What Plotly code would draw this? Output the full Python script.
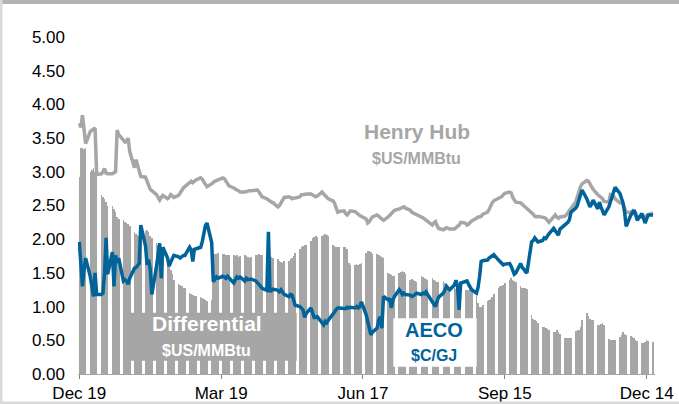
import pandas as pd
import plotly.graph_objects as go

# business-day dates (Mon 2016-12-19 .. Mon 2017-12-18)
dates = pd.bdate_range("2016-12-19", "2017-12-18")

# Henry Hub, $US/MMBtu (weekly rows, Mon..Fri)
henry_hub_weeks = [
    [3.72, 3.66, 3.84, 3.55, 3.42], [3.60, 3.62, 3.63, 3.65, 2.96],
    [2.97, 3.00, 3.05, 2.98, 2.97], [2.97, 2.98, 3.00, 3.62, 3.55],
    [3.47, 3.44, 3.45, 3.50, 3.30], [3.06, 3.18, 3.10, 2.98, 2.93],
    [2.92, 2.85, 2.80, 2.74, 2.72], [2.66, 2.62, 2.58, 2.62, 2.65],
    [2.60, 2.62, 2.66, 2.64, 2.62], [2.65, 2.69, 2.72, 2.76, 2.78],
    [2.83, 2.86, 2.84, 2.86, 2.88], [2.91, 2.89, 2.85, 2.80, 2.78],
    [2.82, 2.85, 2.86, 2.87, 2.88], [2.91, 2.90, 2.86, 2.82, 2.79],
    [2.76, 2.74, 2.73, 2.72, 2.70], [2.70, 2.71, 2.72, 2.72, 2.72],
    [2.72, 2.73, 2.70, 2.66, 2.63], [2.60, 2.58, 2.57, 2.55, 2.54],
    [2.48, 2.50, 2.53, 2.58, 2.62], [2.63, 2.62, 2.60, 2.61, 2.61],
    [2.63, 2.66, 2.66, 2.67, 2.67], [2.67, 2.66, 2.65, 2.63, 2.64],
    [2.70, 2.67, 2.64, 2.62, 2.60], [2.57, 2.53, 2.46, 2.40, 2.41],
    [2.42, 2.38, 2.36, 2.39, 2.42], [2.41, 2.38, 2.37, 2.35, 2.34],
    [2.30, 2.24, 2.26, 2.30, 2.33], [2.36, 2.34, 2.32, 2.30, 2.28],
    [2.33, 2.36, 2.39, 2.41, 2.43], [2.45, 2.46, 2.47, 2.48, 2.46],
    [2.43, 2.40, 2.39, 2.37, 2.36], [2.34, 2.32, 2.30, 2.28, 2.26],
    [2.21, 2.24, 2.26, 2.20, 2.16], [2.14, 2.15, 2.17, 2.16, 2.15],
    [2.15, 2.17, 2.18, 2.21, 2.25], [2.24, 2.21, 2.22, 2.25, 2.27],
    [2.31, 2.33, 2.33, 2.34, 2.37], [2.40, 2.44, 2.50, 2.54, 2.57],
    [2.61, 2.62, 2.63, 2.66, 2.68], [2.70, 2.69, 2.62, 2.57, 2.55],
    [2.54, 2.52, 2.50, 2.48, 2.45], [2.40, 2.37, 2.34, 2.33, 2.34],
    [2.33, 2.32, 2.31, 2.28, 2.25], [2.33, 2.36, 2.33, 2.31, 2.33],
    [2.34, 2.36, 2.40, 2.43, 2.46], [2.55, 2.63, 2.72, 2.78, 2.82],
    [2.87, 2.86, 2.82, 2.78, 2.74], [2.66, 2.64, 2.62, 2.60, 2.56],
    [2.55, 2.66, 2.65, 2.64, 2.60], [2.54, 2.54, 2.52, 2.46, 2.40],
    [2.40, 2.42, 2.38, 2.35, 2.33], [2.33, 2.32, 2.34, 2.35, 2.36],
    [2.39],
]

# AECO, $C/GJ
aeco_weeks = [
    [1.96, 1.65, 1.30, 1.55, 1.72], [1.44, 1.25, 1.15, 1.50, 1.18],
    [1.18, 1.20, 1.50, 2.02, 1.48], [1.81, 1.30, 1.76, 1.65, 1.72],
    [1.38, 1.40, 1.38, 1.33, 1.42], [1.57, 1.58, 1.62, 1.64, 2.21],
    [1.90, 1.62, 1.70, 1.55, 1.18], [1.60, 1.75, 1.94, 1.42, 1.88],
    [1.72, 1.60, 1.66, 1.72, 1.76], [1.74, 1.72, 1.74, 1.76, 1.76],
    [1.88, 1.84, 1.67, 1.85, 1.86], [1.88, 1.96, 2.06, 2.20, 2.24],
    [1.95, 1.37, 1.40, 1.44, 1.42], [1.45, 1.44, 1.42, 1.45, 1.42],
    [1.35, 1.40, 1.44, 1.42, 1.44], [1.38, 1.42, 1.40, 1.40, 1.41],
    [1.38, 1.36, 1.33, 1.30, 1.27], [1.24, 2.11, 1.22, 1.24, 1.26],
    [1.24, 1.22, 1.25, 1.22, 1.18], [1.15, 1.18, 1.17, 1.08, 1.02],
    [1.00, 0.98, 0.95, 0.84, 0.90], [0.98, 0.90, 0.84, 0.84, 0.85],
    [0.76, 0.73, 0.78, 0.76, 0.80], [0.88, 0.92, 0.96, 0.98, 0.98],
    [0.98, 0.97, 0.99, 0.98, 0.99], [0.98, 1.00, 0.98, 1.00, 1.07],
    [0.88, 0.78, 0.70, 0.58, 0.62], [0.68, 0.80, 0.85, 0.68, 1.15],
    [1.10, 1.12, 0.98, 1.10, 1.15], [1.25, 1.22, 1.18, 1.20, 1.18],
    [1.17, 1.15, 1.16, 1.18, 1.20], [1.18, 1.20, 1.19, 1.22, 1.18],
    [1.07, 1.02, 1.00, 1.08, 1.14], [1.20, 1.26, 1.30, 1.27, 1.25],
    [1.32, 1.39, 1.30, 0.95, 1.35], [1.37, 1.38, 1.33, 1.28, 1.25],
    [1.20, 1.28, 1.45, 1.67, 1.68], [1.69, 1.72, 1.74, 1.76, 1.77],
    [1.69, 1.66, 1.64, 1.62, 1.63], [1.64, 1.60, 1.55, 1.48, 1.50],
    [1.64, 1.58, 1.56, 1.52, 1.50], [1.96, 1.98, 2.02, 1.98, 1.96],
    [1.98, 2.02, 2.01, 2.05, 2.08], [2.16, 2.12, 2.09, 2.06, 2.15],
    [2.21, 2.24, 2.25, 2.29, 2.40], [2.46, 2.50, 2.58, 2.64, 2.73],
    [2.60, 2.52, 2.48, 2.52, 2.58], [2.45, 2.55, 2.48, 2.40, 2.36],
    [2.48, 2.56, 2.63, 2.70, 2.77], [2.68, 2.62, 2.54, 2.40, 2.19],
    [2.36, 2.40, 2.43, 2.38, 2.28], [2.38, 2.30, 2.24, 2.30, 2.36],
    [2.36],
]

# Differential, $US/MMBtu
differential_weeks = [
    [2.92, 3.35, 3.35, 3.34, 3.35], [3.00, 3.02, 3.05, 3.00, 2.98],
    [2.65, 2.63, 2.60, 2.55, 2.50], [2.50, 2.45, 2.40, 2.33, 2.30],
    [2.28, 2.26, 2.24, 2.22, 2.20], [2.10, 2.08, 2.06, 2.05, 2.00],
    [2.12, 2.14, 2.10, 2.05, 2.02], [1.95, 1.92, 1.90, 1.88, 1.86],
    [1.70, 1.62, 1.55, 1.48, 1.40], [1.34, 1.32, 1.30, 1.28, 1.27],
    [1.20, 1.18, 1.17, 1.16, 1.15], [1.14, 1.13, 1.12, 1.10, 1.08],
    [1.10, 1.75, 1.78, 1.78, 1.80], [1.78, 1.78, 1.77, 1.76, 1.76],
    [1.76, 1.75, 1.76, 1.74, 1.75], [1.77, 1.75, 1.73, 1.72, 1.74],
    [1.76, 1.77, 1.78, 1.77, 1.76], [1.75, 1.74, 1.75, 1.73, 1.72],
    [1.70, 1.68, 1.66, 1.65, 1.68], [1.68, 1.70, 1.72, 1.75, 1.80],
    [1.86, 1.88, 1.90, 1.91, 1.92], [1.98, 2.02, 2.04, 2.05, 2.04],
    [2.05, 2.06, 2.07, 2.06, 2.05], [1.92, 1.90, 1.89, 1.89, 1.88],
    [1.89, 1.88, 1.86, 1.65, 1.62], [1.62, 1.63, 1.62, 1.63, 1.65],
    [1.80, 1.82, 1.82, 1.81, 1.78], [1.78, 1.76, 1.75, 1.74, 1.72],
    [1.50, 1.48, 1.47, 1.46, 1.45], [1.50, 1.52, 1.53, 1.51, 1.49],
    [1.40, 1.41, 1.40, 1.38, 1.37], [1.46, 1.44, 1.42, 1.41, 1.40],
    [1.42, 1.40, 1.38, 1.37, 1.36], [1.38, 1.35, 1.33, 1.30, 1.28],
    [1.28, 1.26, 1.25, 1.25, 1.24], [1.25, 1.25, 1.24, 1.26, 1.26],
    [1.15, 1.05, 1.00, 1.00, 1.02], [1.08, 1.10, 1.12, 1.14, 1.18],
    [1.28, 1.30, 1.31, 1.32, 1.35], [1.40, 1.42, 1.40, 1.38, 1.36],
    [1.30, 1.28, 1.27, 1.27, 1.26], [0.88, 0.82, 0.80, 0.78, 0.76],
    [0.70, 0.69, 0.68, 0.67, 0.66], [0.63, 0.62, 0.66, 0.62, 0.60],
    [0.54, 0.53, 0.53, 0.53, 0.54], [0.64, 0.65, 0.66, 0.70, 0.80],
    [0.90, 0.86, 0.82, 0.80, 0.80], [0.72, 0.73, 0.74, 0.76, 0.72],
    [0.52, 0.50, 0.50, 0.51, 0.50], [0.55, 0.58, 0.62, 0.60, 0.58],
    [0.56, 0.55, 0.54, 0.51, 0.49], [0.46, 0.46, 0.47, 0.50, 0.49],
    [0.48],
]

tick_dates = ["2016-12-19", "2017-03-19", "2017-06-17", "2017-09-15", "2017-12-14"]
tick_labels = ["Dec 19", "Mar 19", "Jun 17", "Sep 15", "Dec 14"]

henry_hub = [v for w in henry_hub_weeks for v in w]
aeco = [v for w in aeco_weeks for v in w]
differential = [v for w in differential_weeks for v in w]
assert len(henry_hub) == len(aeco) == len(differential) == len(dates)

GRAY = "#A6A6A6"
BLUE = "#00639A"
FONT = "Liberation Sans, Arial, sans-serif"

W, H = 679, 404
L, R, T, B = 78, 24, 37, 30
PW, PH = W - L - R, H - T - B


def fx(px):
    return (px - L) / PW


def fy(py):
    return (H - B - py) / PH


fig = go.Figure()
fig.add_trace(go.Bar(x=dates, y=differential, marker=dict(color=GRAY, line=dict(width=0)),
                     name="Differential", showlegend=False, hoverinfo="skip"))
fig.add_trace(go.Scatter(x=dates, y=henry_hub, mode="lines", line=dict(color=GRAY, width=3.5),
                         name="Henry Hub", showlegend=False, hoverinfo="skip"))
fig.add_trace(go.Scatter(x=dates, y=aeco, mode="lines", line=dict(color=BLUE, width=3.5),
                         name="AECO", showlegend=False, hoverinfo="skip"))

shapes = [
    # label boxes
    dict(type="rect", xref="paper", yref="paper", x0=fx(123.3), x1=fx(296.7),
         y0=fy(360.7), y1=fy(312.7), fillcolor=GRAY, line=dict(width=0), layer="above"),
    dict(type="rect", xref="paper", yref="paper", x0=fx(393.3), x1=fx(476.7),
         y0=fy(366.7), y1=fy(318.3), fillcolor="white", line=dict(width=0), layer="above"),
    # frame
    dict(type="rect", xref="paper", yref="paper", x0=fx(0), x1=fx(W),
         y0=fy(4), y1=fy(0), fillcolor="#B3B3B3", line=dict(width=0), layer="above"),
    dict(type="rect", xref="paper", yref="paper", x0=fx(0), x1=fx(2.5),
         y0=fy(H), y1=fy(0), fillcolor="#D9D9D9", line=dict(width=0), layer="above"),
    dict(type="rect", xref="paper", yref="paper", x0=fx(0), x1=fx(W),
         y0=fy(H), y1=fy(401.5), fillcolor="#D9D9D9", line=dict(width=0), layer="above"),
]

annotations = [
    dict(text="<b>Henry Hub</b>", x=fx(416.7), y=fy(131.7), font=dict(size=21, color=GRAY)),
    dict(text="<b>$US/MMBtu</b>", x=fx(416.5), y=fy(158.7), font=dict(size=16, color=GRAY)),
    dict(text="<b>Differential</b>", x=fx(206.7), y=fy(323.3), font=dict(size=21, color="white")),
    dict(text="<b>$US/MMBtu</b>", x=fx(206.7), y=fy(350.3), font=dict(size=16, color="white")),
    dict(text="<b>AECO</b>", x=fx(434.2), y=fy(330), font=dict(size=20, color=BLUE)),
    dict(text="<b>$C/GJ</b>", x=fx(434.2), y=fy(355), font=dict(size=16, color=BLUE)),
]
for a in annotations:
    a.update(xref="paper", yref="paper", showarrow=False, xanchor="center", yanchor="middle")
    a["font"]["family"] = FONT

fig.update_layout(
    width=W, height=H,
    margin=dict(l=L, r=R, t=T, b=B, pad=0, autoexpand=False),
    paper_bgcolor="white", plot_bgcolor="white",
    bargap=0,
    showlegend=False,
    hovermode=False,
    font=dict(family=FONT, size=17, color="#000000"),
    shapes=shapes, annotations=annotations,
    xaxis=dict(
        type="date",
        range=["2016-12-18 04:00", "2017-12-19 07:00"],
        tickmode="array", tickvals=tick_dates, ticktext=tick_labels,
        ticks="outside", ticklen=4, tickwidth=1, tickcolor="#808080",
        showline=True, linecolor="#A6A6A6", linewidth=1,
        showgrid=False, zeroline=False, automargin=False,
        tickfont=dict(size=17, color="#000000", family=FONT),
    ),
    yaxis=dict(
        range=[0, 5], tickmode="linear", tick0=0, dtick=0.5, tickformat=".2f",
        showgrid=False, zeroline=False, showline=False, ticks="", automargin=False,
        ticklabelstandoff=12,
        tickfont=dict(size=17, color="#000000", family=FONT),
    ),
)

fig.write_html(
    "out.html",
    config={"displayModeBar": False, "staticPlot": True},
    post_script="document.body.style.margin='0';document.body.style.padding='0';"
                "document.body.style.overflow='hidden';",
)
